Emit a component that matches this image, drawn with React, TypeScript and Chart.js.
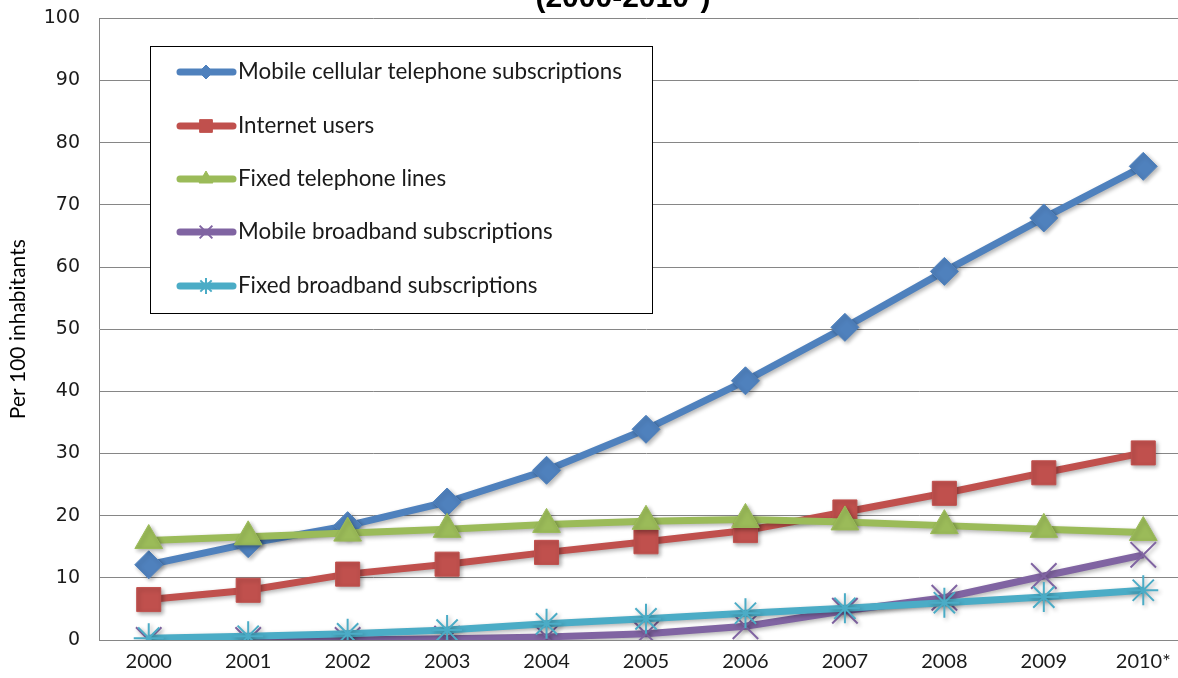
import React, { useEffect, useRef } from 'react';
import { Chart, registerables } from 'chart.js';
import { drawPoint } from 'chart.js/helpers';

Chart.register(...registerables);

const years = ['2000', '2001', '2002', '2003', '2004', '2005', '2006', '2007', '2008', '2009', '2010*'];
const mobileCellular = [12.1, 15.5, 18.4, 22.2, 27.3, 33.9, 41.7, 50.3, 59.3, 67.9, 76.2];
const internetUsers = [6.5, 8.0, 10.6, 12.2, 14.1, 15.8, 17.6, 20.6, 23.6, 26.9, 30.1];
const fixedTelephone = [16.0, 16.6, 17.2, 17.8, 18.6, 19.1, 19.4, 19.0, 18.4, 17.8, 17.3];
const mobileBroadband = [0, 0, 0, 0.2, 0.5, 1.0, 2.2, 4.7, 6.8, 10.3, 13.7];
const fixedBroadband = [0.3, 0.6, 1.0, 1.6, 2.6, 3.4, 4.3, 5.1, 6.0, 6.9, 8.0];
const seriesNames = [
  'Mobile cellular telephone subscriptions',
  'Internet users',
  'Fixed telephone lines',
  'Mobile broadband subscriptions',
  'Fixed broadband subscriptions',
];
const titleText = '(2000-2010*)';
const yAxisTitle = 'Per 100 inhabitants';

const colors = ['#4F81BD', '#C0504D', '#9BBB59', '#8064A2', '#4BACC6'];
const markers = ['rectRot', 'rect', 'triangle', 'crossRot', 'star'];
const markerRadius = [14, 17, 16, 18, 15];
const legendRadius = [7, 9, 8, 9, 8];

const SHIFT = 12;

const titlePlugin = {
  id: 'cutTitle',
  afterDraw(chart: any) {
    const ctx = chart.ctx;
    ctx.save();
    ctx.font = 'bold 30px "Liberation Sans"';
    ctx.fillStyle = '#000';
    ctx.textAlign = 'center';
    ctx.textBaseline = 'alphabetic';
    ctx.fillText(titleText, 623, 7 + SHIFT);
    ctx.restore();
  },
};

const shadowPlugin = {
  id: 'lineShadow',
  beforeDatasetDraw(chart: any) {
    const ctx = chart.ctx;
    ctx.save();
    ctx.shadowColor = 'rgba(0,0,0,0.3)';
    ctx.shadowBlur = 4;
    ctx.shadowOffsetX = 2;
    ctx.shadowOffsetY = 2;
  },
  afterDatasetDraw(chart: any) {
    chart.ctx.restore();
  },
};

const legendPlugin = {
  id: 'boxLegend',
  afterDraw(chart: any) {
    const ctx = chart.ctx;
    const x0 = 150, y0 = 46 + SHIFT, w = 502, h = 267;
    ctx.save();
    ctx.fillStyle = '#fff';
    ctx.fillRect(x0, y0, w, h);
    ctx.strokeStyle = '#000';
    ctx.lineWidth = 1;
    ctx.strokeRect(x0 + 0.5, y0 + 0.5, w, h);
    const rows = [72, 126, 179, 232, 286];
    chart.data.datasets.forEach((ds: any, i: number) => {
      const y = rows[i] + SHIFT;
      ctx.strokeStyle = ds.borderColor;
      ctx.lineWidth = 7;
      ctx.lineCap = 'round';
      ctx.beginPath();
      ctx.moveTo(180, y);
      ctx.lineTo(233, y);
      ctx.stroke();
      ctx.lineCap = 'butt';
      ctx.fillStyle = ds.borderColor;
      ctx.strokeStyle = ds.borderColor;
      ctx.lineWidth = ds.pointBorderWidth;
      drawPoint(ctx, {
        pointStyle: ds.pointStyle,
        radius: legendRadius[i],
        borderWidth: ds.pointBorderWidth,
        rotation: 0,
      } as any, 206, y);
      ctx.fillStyle = '#1a1a1a';
      ctx.font = '22.4px Lato';
      ctx.textAlign = 'left';
      ctx.textBaseline = 'middle';
      ctx.fillText(ds.label, 238, y);
    });
    ctx.restore();
  },
};

export default function App() {
  const ref = useRef<HTMLCanvasElement>(null);
  useEffect(() => {
    if (!ref.current) return;
    const seriesValues = [mobileCellular, internetUsers, fixedTelephone, mobileBroadband, fixedBroadband];
    const chart = new Chart(ref.current, {
      type: 'line',
      data: {
        labels: years,
        datasets: seriesValues.map((vals, i) => ({
          label: seriesNames[i],
          data: vals,
          borderColor: colors[i],
          backgroundColor: colors[i],
          borderWidth: 7,
          pointStyle: markers[i] as any,
          pointRadius: markerRadius[i],
          pointBackgroundColor: colors[i],
          pointBorderColor: colors[i],
          pointBorderWidth: i >= 3 ? 2 : 1,
          tension: 0,
          order: 4 - i,
        })),
      },
      options: {
        responsive: false,
        animation: false,
        layout: { padding: { left: 0, right: 53, top: 6, bottom: 0 } },
        plugins: {
          legend: { display: false },
          title: { display: false },
          tooltip: { enabled: false },
        },
        scales: {
          x: {
            offset: true,
            grid: { display: false, drawTicks: false },
            border: { display: true, color: '#868686', width: 1 },
            ticks: { color: '#1a1a1a', font: { family: 'Lato', size: 20 }, padding: 10, maxRotation: 0 },
            afterFit: (axis: any) => { axis.height = 38; },
          },
          y: {
            min: 0,
            max: 100,
            ticks: { stepSize: 10, color: '#1a1a1a', font: { family: 'DejaVu Sans', size: 19 }, padding: 19 },
            grid: { color: '#868686', drawTicks: false, lineWidth: 1 },
            border: { display: true, color: '#868686', width: 1 },
            title: { display: true, text: yAxisTitle, color: '#000', font: { family: 'Lato', size: 21 }, padding: 6 },
            afterFit: (axis: any) => { axis.width = 99; },
          },
        },
      },
      plugins: [shadowPlugin, titlePlugin, legendPlugin],
    });
    return () => chart.destroy();
  }, []);
  return (
    <div style={{ position: 'fixed', left: 0, top: 0, width: 1178, height: 678, overflow: 'hidden', background: '#fff' }}>
      <canvas ref={ref} width={1246} height={678 + SHIFT} style={{ position: 'absolute', left: 0, top: -SHIFT, width: 1246, height: 678 + SHIFT }} />
    </div>
  );
}
